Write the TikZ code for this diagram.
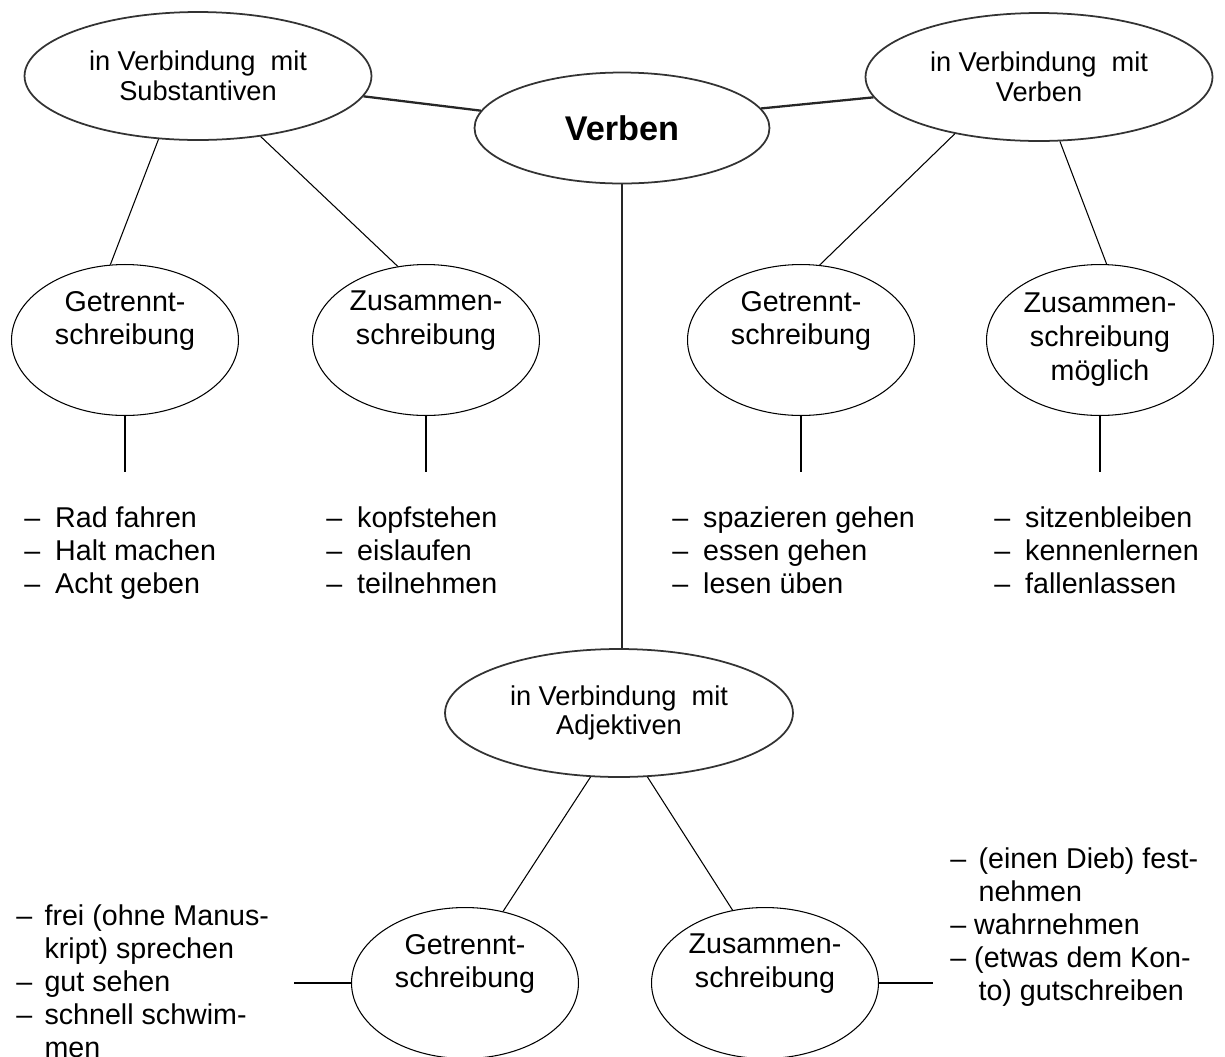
\documentclass[tikz,border=0pt]{standalone}
\usepackage{fontspec}
\setmainfont{Liberation Sans}
\usetikzlibrary{shapes.geometric}

\begin{document}
\begin{tikzpicture}[x=0.02cm,y=-0.02cm,
    bigell/.style={ellipse,draw=black!80,line width=1pt,inner sep=0pt,
      minimum width=6.94cm,minimum height=2.56cm,align=center,
      font=\fontsize{15.5}{17}\selectfont},
    smallell/.style={ellipse,draw,line width=0.6pt,inner sep=0pt,
      minimum width=4.54cm,minimum height=3.02cm,align=center,
      font=\fontsize{16.3}{19.3}\selectfont},
    wordlist/.style={inner sep=0pt,anchor=base west,
      font=\fontsize{16.3}{18.8}\selectfont},
    thinlink/.style={line width=0.6pt},
    boldlink/.style={line width=1.3pt,black!85}]
  \useasboundingbox (0,0) rectangle (1225,1056);

  % centre
  \node[bigell,minimum width=5.9cm,minimum height=2.22cm,
    font=\fontsize{19.5}{22}\selectfont\bfseries] (vb) at (622,128) {Verben};
  \node[bigell] (sub) at (198,76) {in Verbindung\ \ mit\\Substantiven};
  \node[bigell] (verb) at (1039,77) {in Verbindung\ \ mit\\Verben};
  \node[bigell,minimum width=6.96cm] (adj) at (619,713) {in Verbindung\ \ mit\\Adjektiven};

  \draw[boldlink] (sub.-7) -- (vb.173);
  \draw[boldlink] (vb.8) -- (verb.187);
  \draw[boldlink] (vb.south) -- (vb.south |- adj.north);

  % Substantive
  \node[smallell] (subgt) at (125,340) {Getrennt-\\schreibung\\\strut};
  \node[smallell] (subzs) at (426,340) {Zusammen-\\schreibung\\\strut};
  \draw[thinlink] (sub.-122) -- (subgt.101);
  \draw[thinlink] (sub.-44) -- (subzs.111);

  % Verben
  \node[smallell] (verbgt) at (801,340) {Getrennt-\\schreibung\\\strut};
  \node[smallell] (verbzs) at (1100,340) {Zusammen-\\schreibung\\möglich};
  \draw[thinlink] (verb.-146) -- (verbgt.76);
  \draw[thinlink] (verb.-72) -- (verbzs.85);

  \coordinate (subgtend) at (125,472);
  \coordinate (subzsend) at (426,472);
  \coordinate (verbgtend) at (801,472);
  \coordinate (verbzsend) at (1100,472);
  \draw[thinlink] (subgt.south) -- (subgtend);
  \draw[thinlink] (subzs.south) -- (subzsend);
  \draw[thinlink] (verbgt.south) -- (verbgtend);
  \draw[thinlink] (verbzs.south) -- (verbzsend);

  \node[wordlist] (subgtlist) at (24,527) {\begin{tabular}[t]{@{}l@{\hspace{8.5pt}}l@{}}
    –&Rad fahren\\ –&Halt machen\\ –&Acht geben\end{tabular}};
  \node[wordlist] (subzslist) at (326,527) {\begin{tabular}[t]{@{}l@{\hspace{8.5pt}}l@{}}
    –&kopfstehen\\ –&eislaufen\\ –&teilnehmen\end{tabular}};
  \node[wordlist] (verbgtlist) at (672,527) {\begin{tabular}[t]{@{}l@{\hspace{8.5pt}}l@{}}
    –&spazieren gehen\\ –&essen gehen\\ –&lesen üben\end{tabular}};
  \node[wordlist] (verbzslist) at (994,527) {\begin{tabular}[t]{@{}l@{\hspace{8.5pt}}l@{}}
    –&sitzenbleiben\\ –&kennenlernen\\ –&fallenlassen\end{tabular}};

  % Adjektive
  \node[smallell] (adjgt) at (465,983) {Getrennt-\\schreibung\\\strut};
  \node[smallell] (adjzs) at (765,983) {Zusammen-\\schreibung\\\strut};
  \draw[thinlink] (adj.-114) -- (adjgt.62);
  \draw[thinlink] (adj.-66) -- (adjzs.114);

  \coordinate (adjgtend) at (294,983);
  \coordinate (adjzsend) at (933,983);
  \draw[thinlink] (adjgt.west) -- (adjgtend);
  \draw[thinlink] (adjzs.east) -- (adjzsend);

  \node[wordlist] (adjgtlist) at (16,925) {\begin{tabular}[t]{@{}l@{\hspace{7pt}}l@{}}
    –&frei (ohne Manus-\\ &kript) sprechen\\ –&gut sehen\\ –&schnell schwim-\\ &men\end{tabular}};
  \node[wordlist] (adjzslist) at (950,868) {\begin{tabular}[t]{@{}l@{}}
    –\hspace{7pt}(einen Dieb) fest-\\
    \hphantom{–}\hspace{7pt}nehmen\\
    – wahrnehmen\\
    – (etwas dem Kon-\\
    \hphantom{–}\hspace{7pt}to) gutschreiben\end{tabular}};
\end{tikzpicture}
\end{document}
